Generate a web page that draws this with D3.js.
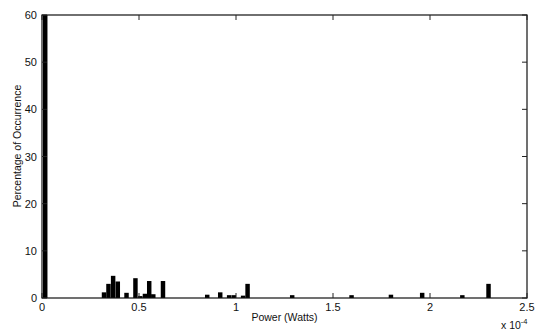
<!DOCTYPE html>
<html>
<head>
<meta charset="utf-8">
<script src="https://cdn.jsdelivr.net/npm/d3@7"></script>
<style>
  body { margin: 0; background: #fff; }
  text { font-family: "Liberation Sans", Arial, sans-serif; fill: #111; }
</style>
</head>
<body>
<div id="chart"></div>
<script>
// bin start (x 1e-4 W) and percentage of occurrence
var binStart = [0, 0.303, 0.326, 0.350, 0.374, 0.419, 0.465, 0.490, 0.514, 0.536, 0.557, 0.607,
                0.835, 0.902, 0.948, 0.972, 1.020, 1.043, 1.273, 1.579, 1.782, 1.943, 2.150, 2.285];
var percent  = [60, 1.2, 3.0, 4.7, 3.5, 1.1, 4.2, 0.4, 0.9, 3.6, 0.8, 3.6,
                0.7, 1.2, 0.6, 0.6, 0.5, 3.0, 0.6, 0.6, 0.7, 1.1, 0.6, 3.0];
var binWidth = 0.023;
var xTicks = [0, 0.5, 1, 1.5, 2, 2.5];
var yTicks = [0, 10, 20, 30, 40, 50, 60];

var margin = { top: 15, right: 9, bottom: 34, left: 42 };
var width = 536 - margin.left - margin.right;
var height = 332 - margin.top - margin.bottom;

var svg = d3.select("#chart").append("svg")
    .attr("width", 536)
    .attr("height", 332)
    .append("g")
    .attr("transform", "translate(" + margin.left + "," + margin.top + ")");

var x = d3.scaleLinear().domain([0, 2.5]).range([0, width]);
var y = d3.scaleLinear().domain([0, 60]).range([height, 0]);

var data = binStart.map(function(d, i) { return { x: d, v: percent[i] }; });

svg.selectAll(".bar")
    .data(data)
    .enter().append("rect")
    .attr("class", "bar")
    .attr("x", function(d) { return x(d.x) + 1; })
    .attr("width", function(d) { return x(binWidth) - x(0); })
    .attr("y", function(d) { return y(d.v); })
    .attr("height", function(d) { return height - y(d.v); })
    .attr("fill", "#000");

// box
svg.append("rect")
    .attr("width", width)
    .attr("height", height)
    .attr("fill", "none")
    .attr("stroke", "#111")
    .attr("stroke-width", 1.2);

// inward ticks (matlab style)
var tickLen = 5;
svg.selectAll(".xt")
    .data(xTicks)
    .enter().append("line")
    .attr("x1", function(d) { return x(d); })
    .attr("x2", function(d) { return x(d); })
    .attr("y1", height)
    .attr("y2", height - tickLen)
    .attr("stroke", "#222");
svg.selectAll(".xtt")
    .data(xTicks)
    .enter().append("line")
    .attr("x1", function(d) { return x(d); })
    .attr("x2", function(d) { return x(d); })
    .attr("y1", 0)
    .attr("y2", tickLen)
    .attr("stroke", "#222");
svg.selectAll(".yt")
    .data(yTicks)
    .enter().append("line")
    .attr("x1", 0)
    .attr("x2", tickLen)
    .attr("y1", function(d) { return y(d); })
    .attr("y2", function(d) { return y(d); })
    .attr("stroke", "#222");
svg.selectAll(".ytr")
    .data(yTicks)
    .enter().append("line")
    .attr("x1", width)
    .attr("x2", width - tickLen)
    .attr("y1", function(d) { return y(d); })
    .attr("y2", function(d) { return y(d); })
    .attr("stroke", "#222");

// tick labels
svg.selectAll(".xl")
    .data(xTicks)
    .enter().append("text")
    .attr("x", function(d) { return x(d); })
    .attr("y", height + 13)
    .attr("text-anchor", "middle")
    .attr("font-size", 11)
    .text(function(d) { return d; });

svg.selectAll(".yl")
    .data(yTicks)
    .enter().append("text")
    .attr("x", -5)
    .attr("y", function(d) { return y(d) + 4; })
    .attr("text-anchor", "end")
    .attr("font-size", 11)
    .text(function(d) { return d; });

// axis titles
svg.append("text")
    .attr("x", x(1.25))
    .attr("y", height + 23)
    .attr("text-anchor", "middle")
    .attr("font-size", 10.5)
    .text("Power (Watts)");

svg.append("text")
    .attr("transform", "translate(" + (-21) + "," + (131) + ") rotate(-90)")
    .attr("text-anchor", "middle")
    .attr("font-size", 10.5)
    .text("Percentage of Occurrence");

var exp = svg.append("text")
    .attr("x", width - 26)
    .attr("y", height + 31)
    .attr("font-size", 10.5);
exp.append("tspan").text("x 10");
exp.append("tspan").attr("dy", -5).attr("font-size", 7.5).text("-4");
</script>
</body>
</html>
